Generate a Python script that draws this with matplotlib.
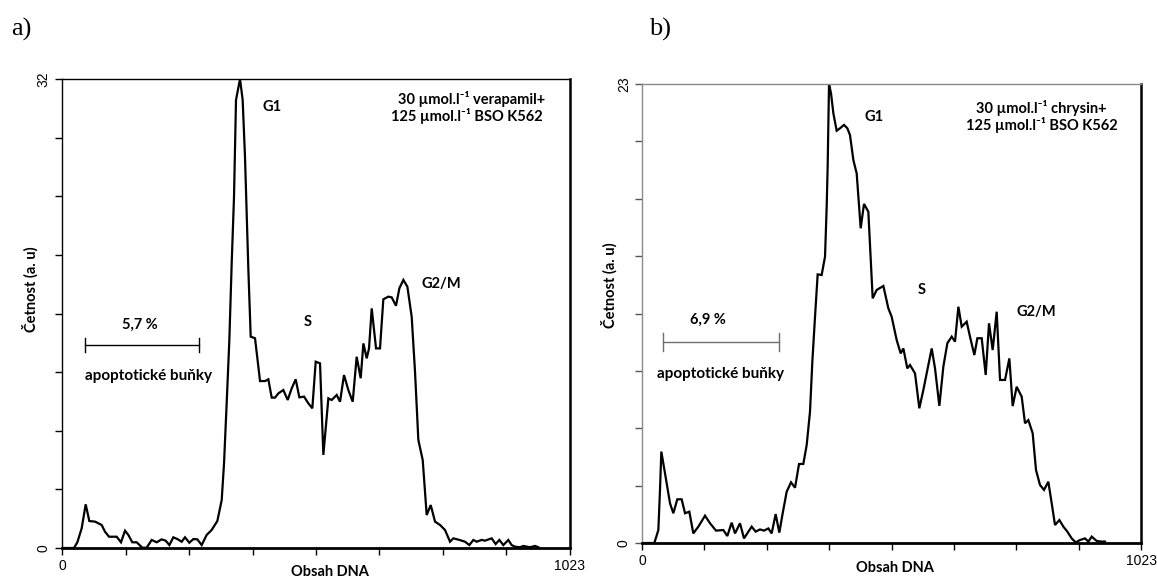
import matplotlib
matplotlib.use("Agg")
import matplotlib.pyplot as plt
from matplotlib import font_manager

# DNA content histograms (channel 0..1023, counts in arbitrary units)

# a) 30 umol/l verapamil + 125 umol/l BSO, K562
a_channel = [0, 24.2, 30.9, 39.6, 47.7, 55.0, 66.5, 79.9, 86.6, 94.7, 110.1, 118.8,
             126.9, 133.6, 141.6, 150.4, 161.8, 170.5, 180.6, 190.6, 200.7, 208.8,
             216.2, 224.2, 232.3, 241.0, 247.7, 256.4, 264.5, 272.5, 281.3, 291.3,
             301.4, 312.8, 321.6, 326.3, 331.6, 337.0, 341.7, 346.4, 350.4, 358.5,
             363.8, 368.5, 375.3, 380.0, 388.7, 398.8, 408.8, 415.5, 422.3, 429.0,
             435.7, 445.7, 454.5, 462.5, 470.6, 478.0, 487.4, 496.1, 504.1, 510.9,
             519.6, 526.3, 536.4, 543.1, 553.2, 559.9, 567.9, 576.6, 585.4, 593.4,
             601.5, 606.9, 613.6, 618.3, 623.7, 632.4, 640.4, 647.1, 657.2, 663.9,
             672.6, 679.4, 687.4, 695.5, 704.2, 710.9, 717.6, 726.4, 734.4, 742.5,
             751.2, 761.3, 771.3, 781.4, 788.1, 800.2, 811.6, 820.3, 828.4, 835.1,
             845.1, 851.8, 865.3, 873.3, 880.7, 888.7, 898.8, 905.5, 912.3, 922.3,
             929.0, 942.5, 952.6, 959.3]
a_count = [0, 0, 0.39, 1.34, 2.98, 1.84, 1.80, 1.57, 1.11, 0.77, 0.77, 0.39,
           1.18, 0.89, 0.39, 0.39, 0.02, 0.02, 0.55, 0.39, 0.59, 0.50,
           0.20, 0.73, 0.61, 0.43, 0.73, 0.36, 0.61, 0.59, 0.20, 0.89,
           1.23, 1.84, 3.27, 5.78, 9.87, 14.19, 19.42, 23.97, 30.57, 32.0,
           30.57, 26.70, 18.97, 14.42, 14.31, 11.39, 11.39, 11.51, 10.26, 10.26,
           10.55, 10.78, 10.10, 10.89, 11.51, 10.28, 10.33, 9.87, 9.53, 12.71,
           12.60, 6.35, 10.21, 10.10, 10.44, 9.98, 11.80, 10.78, 9.98, 13.05,
           11.58, 13.96, 12.94, 13.62, 16.35, 13.62, 13.62, 16.97, 17.15, 17.10,
           16.53, 17.72, 18.29, 17.83, 15.78, 12.03, 7.37, 6.00, 2.25, 2.93,
           1.80, 1.57, 1.23, 0.43, 0.66, 0.55, 0.43, 0.20, 0.55, 0.43,
           0.55, 0.50, 0.66, 0.27, 0.55, 0.20, 0.55, 0.20, 0.09, 0.05,
           0.14, 0.05, 0.14, 0.05]

# b) 30 umol/l chrysin + 125 umol/l BSO, K562
b_channel = [0, 25.3, 33.5, 36.9, 39.6, 43.7, 50.6, 57.4, 64.2, 72.4, 81.3, 88.2,
             97.0, 105.2, 115.5, 129.2, 139.4, 151.7, 166.7, 174.9, 183.8, 190.7,
             200.9, 209.1, 224.8, 233.0, 241.9, 250.1, 259.0, 265.8, 274.0, 281.5,
             288.4, 296.6, 305.5, 313.7, 321.9, 330.7, 337.6, 344.4, 349.2, 354.7,
             360.1, 368.3, 375.2, 378.6, 380.6, 383.4, 387.5, 392.3, 399.1, 405.9,
             414.1, 421.0, 426.4, 433.3, 440.1, 448.3, 455.1, 464.0, 472.9, 481.1,
             494.8, 505.0, 511.8, 522.1, 530.3, 535.8, 543.9, 549.4, 559.7, 568.5,
             576.8, 585.0, 593.9, 600.7, 609.6, 617.8, 626.0, 634.9, 641.7, 648.6,
             655.4, 665.6, 672.4, 681.3, 687.5, 696.4, 704.6, 711.4, 718.9, 727.1,
             734.0, 744.2, 753.1, 759.9, 768.1, 778.4, 785.2, 792.0, 800.9, 807.7,
             815.9, 824.1, 833.0, 839.9, 846.7, 855.6, 863.8, 872.0, 880.9, 889.1,
             898.0, 908.2, 915.1, 921.9, 932.2, 942.4, 949.2]
b_count = [0, 0, 0.65, 2.67, 4.58, 3.99, 2.99, 1.99, 1.49, 2.19, 2.19, 1.49,
           1.57, 0.48, 0.82, 1.37, 0.99, 0.62, 0.65, 0.35, 1.02, 0.48,
           0.99, 0.23, 0.82, 0.57, 0.68, 0.62, 0.73, 0.48, 1.45, 0.52,
           1.49, 2.57, 3.04, 2.77, 3.96, 3.96, 4.91, 6.58, 9.09, 11.34,
           13.46, 13.43, 14.35, 16.85, 18.86, 23.0, 22.53, 21.53, 20.66, 20.78,
           20.95, 20.78, 20.44, 19.19, 18.52, 15.77, 16.99, 16.60, 12.26, 12.68,
           12.88, 11.76, 11.34, 10.17, 9.50, 9.75, 8.75, 8.92, 8.50, 6.75,
           7.67, 8.67, 9.75, 8.75, 6.87, 8.84, 10.01, 10.34, 10.09, 11.84,
           10.84, 11.09, 10.34, 9.42, 10.26, 10.26, 8.42, 11.01, 9.67, 11.59,
           8.17, 8.17, 9.25, 6.86, 7.83, 7.33, 6.00, 6.16, 5.50, 3.66,
           2.91, 2.66, 3.07, 1.99, 0.90, 1.15, 0.82, 0.57, 0.23, 0.03,
           0.15, 0.23, 0.07, 0.32, 0.10, 0.07, 0.07]

a_ymax = 32
b_ymax = 23
x_max = 1023

a_title = ["30 µmol.l⁻¹ verapamil+", "125 µmol.l⁻¹ BSO K562"]
b_title = ["30 µmol.l⁻¹ chrysin+", "125 µmol.l⁻¹ BSO K562"]
a_apopt = "5,7 %"
b_apopt = "6,9 %"

available = {f.name for f in font_manager.fontManager.ttflist}
tick_family = ["Liberation Sans Narrow"] if "Liberation Sans Narrow" in available else ["Liberation Sans"]
bold_family = ["Lato", "DejaVu Sans"]

fig = plt.figure(figsize=(11.57, 5.80), dpi=100)
ax_a = fig.add_axes([0.05359, 0.05517, 0.43906, 0.80862])
ax_b = fig.add_axes([0.55489, 0.06379, 0.43129, 0.79138])


def style_axes(ax, ymax, light_frame):
    ax.set_xlim(0, x_max)
    ax.set_ylim(0, ymax)
    ax.set_xticks([x_max * i / 8 for i in range(9)])
    ax.set_yticks([ymax * i / 8 for i in range(9)])
    ax.set_xticklabels(["0"] + [""] * 7 + [str(x_max)], family=tick_family, fontsize=10)
    ax.set_yticklabels(["0"] + [""] * 7 + [str(ymax)], family=tick_family, fontsize=10,
                       rotation=90, va="center")
    ax.tick_params(axis="both", direction="out", length=5, width=1, colors="black", pad=3)
    frame_col = "#8a8a8a" if light_frame else "black"
    if light_frame:
        ax.tick_params(axis="y", color="#555555")
    ax.spines["top"].set_color(frame_col)
    ax.spines["left"].set_color(frame_col)
    ax.spines["top"].set_linewidth(1.0)
    ax.spines["left"].set_linewidth(1.0)
    ax.spines["right"].set_linewidth(1.8)
    ax.spines["bottom"].set_linewidth(2.0)


def bracket(ax, x0, x1, y, h, color):
    ax.plot([x0, x1], [y, y], color=color, lw=1.0, transform=ax.transAxes, clip_on=False)
    for xe in (x0, x1):
        ax.plot([xe, xe], [y - h, y + h], color=color, lw=1.0, transform=ax.transAxes,
                clip_on=False)


def label(ax, x, y, s, size=10.5):
    ax.text(x, y, s, transform=ax.transAxes, ha="center", va="center",
            family=bold_family, fontweight="bold", fontsize=size, color="black")


# panel a
ax_a.plot(a_channel, a_count, color="black", lw=1.6, solid_joinstyle="miter")
style_axes(ax_a, a_ymax, light_frame=False)
label(ax_a, 0.4134, 0.9403, "G1")
label(ax_a, 0.4843, 0.4819, "S")
label(ax_a, 0.7461, 0.5629, "G2/M")
label(ax_a, 0.8071, 0.9574, a_title[0])
label(ax_a, 0.7972, 0.9211, a_title[1])
label(ax_a, 0.1535, 0.4755, a_apopt)
bracket(ax_a, 0.0453, 0.2697, 0.4328, 0.0149, "black")
label(ax_a, 0.1693, 0.3667, "apoptotické buňky", size=11)

# panel b
ax_b.plot(b_channel, b_count, color="black", lw=1.6, solid_joinstyle="miter")
style_axes(ax_b, b_ymax, light_frame=True)
label(ax_b, 0.4649, 0.9281, "G1")
label(ax_b, 0.5611, 0.5512, "S")
label(ax_b, 0.7896, 0.5033, "G2/M")
label(ax_b, 0.7996, 0.9477, b_title[0])
label(ax_b, 0.8016, 0.9107, b_title[1])
label(ax_b, 0.1323, 0.4858, b_apopt)
bracket(ax_b, 0.0415, 0.2752, 0.4386, 0.0196, "#6e6e6e")
label(ax_b, 0.1583, 0.3682, "apoptotické buňky", size=11)

# axis titles
for x, y in [(0.0259, 0.5017), (0.5264, 0.5086)]:
    fig.text(x, y, "Četnost (a. u)", rotation=90, ha="center", va="center",
             family=bold_family, fontweight="bold", fontsize=10.5)
for x, y in [(0.2852, 0.0138), (0.7735, 0.0207)]:
    fig.text(x, y, "Obsah DNA", ha="center", va="center",
             family=bold_family, fontweight="bold", fontsize=10.5)

# panel letters
fig.text(0.0182, 0.95, "a)", ha="center", va="center",
         family=["Liberation Serif"], fontsize=19)
fig.text(0.5704, 0.95, "b)", ha="center", va="center",
         family=["Liberation Serif"], fontsize=19)

fig.savefig("out.png", dpi=100, facecolor="white")
